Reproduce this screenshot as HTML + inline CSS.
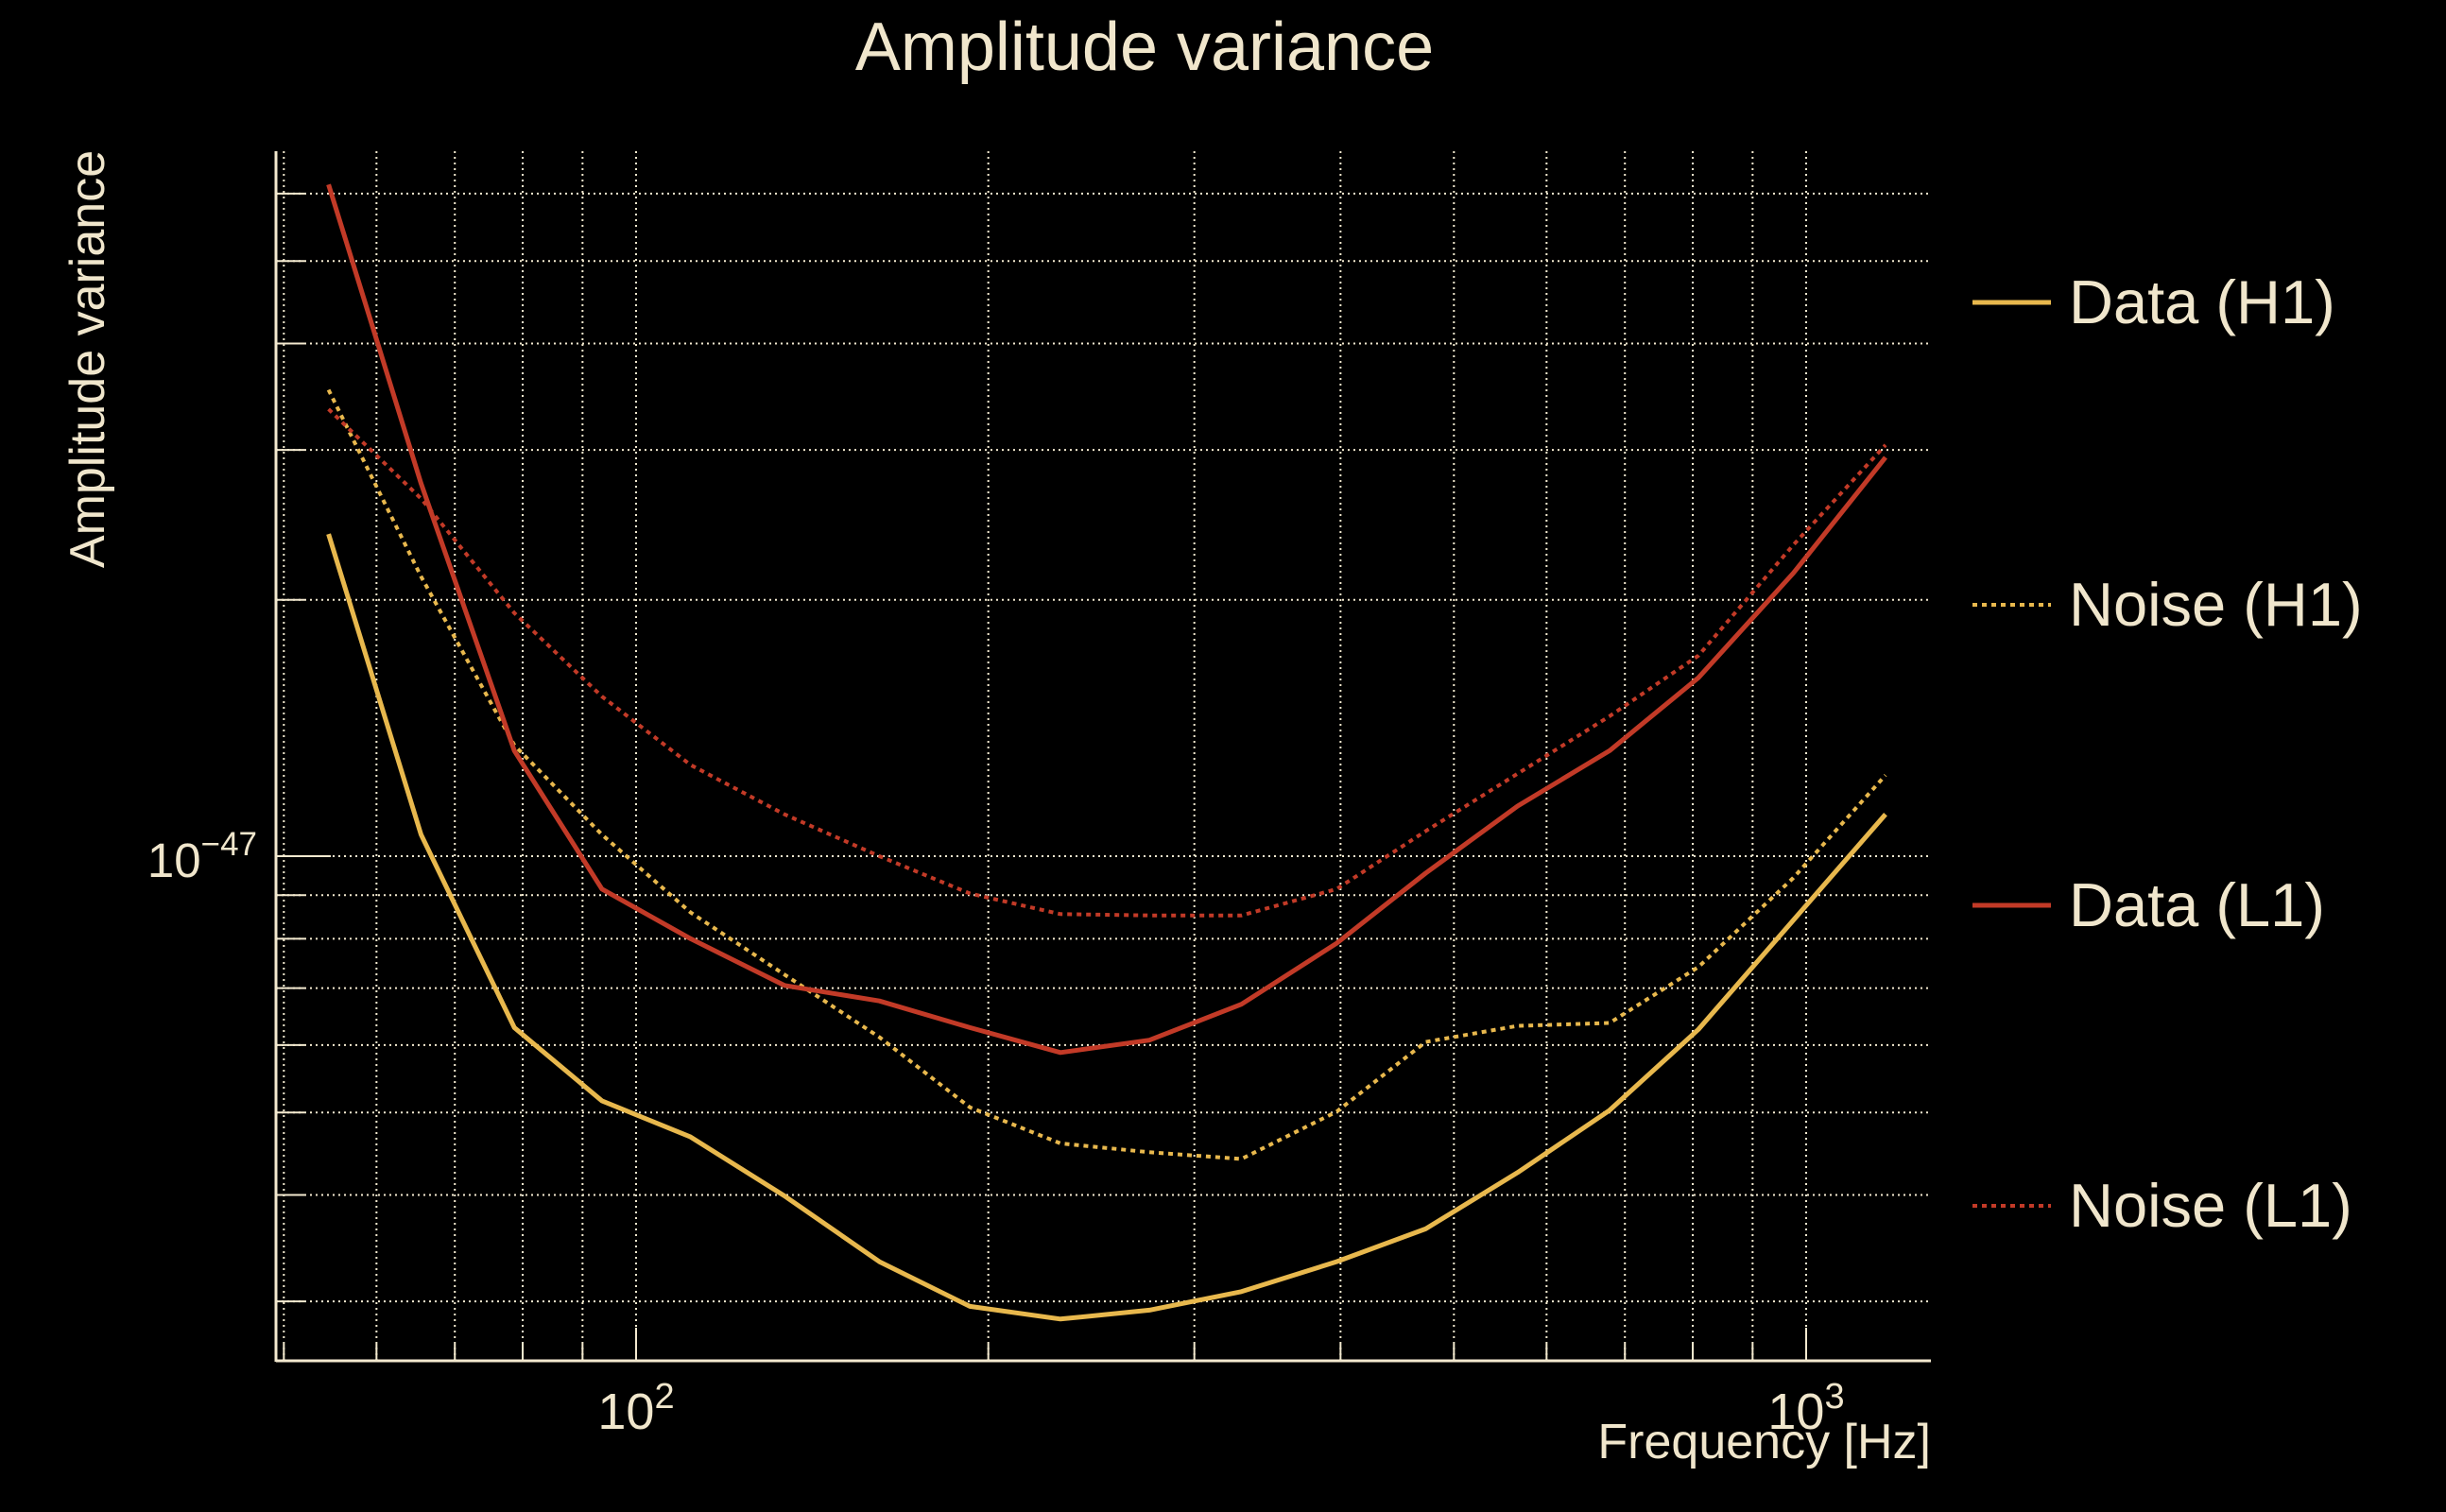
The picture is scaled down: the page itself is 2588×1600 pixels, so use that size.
<!DOCTYPE html>
<html><head><meta charset="utf-8">
<style>
html,body{margin:0;padding:0;background:#000;}
svg{display:block;font-family:"Liberation Sans",sans-serif;}
</style></head>
<body>
<svg id="chart" width="2588" height="1600" viewBox="0 0 2588 1600" xmlns="http://www.w3.org/2000/svg">
<rect width="2588" height="1600" fill="#000"/>
<g id="grid"></g>
<g id="series"></g>
<g id="axes"></g>
<text x="1211" y="74" text-anchor="middle" font-size="72" fill="#f0e6cc">Amplitude variance</text>
<text transform="translate(110,380) rotate(-90)" text-anchor="middle" font-size="52" fill="#f0e6cc">Amplitude variance</text>
<text x="2043" y="1543" text-anchor="end" font-size="52" fill="#f0e6cc">Frequency [Hz]</text>
<g id="legend"></g>
</svg>
<script>
// frequencies (Hz)
const freqs = [54.6,65.5,78.7,93.5,111.3,133.9,161.4,192.9,230.5,274.6,329.1,396.9,472.9,566.7,679.2,809,975,1169];
// values in units of 1e-48
const dataH1 = [23.9,10.6,6.29,5.16,4.68,3.99,3.34,2.96,2.86,2.93,3.08,3.34,3.65,4.25,5.03,6.26,8.41,11.2];
const noiseH1 = [35.3,21.3,13.5,10.6,8.59,7.26,6.13,5.07,4.60,4.49,4.41,5.01,6.05,6.32,6.37,7.41,9.43,12.45];
const dataL1 = [61.5,27.4,13.3,9.15,8.0,7.05,6.76,6.29,5.88,6.08,6.70,7.9,9.55,11.45,13.3,16.2,21.5,29.4];
const noiseL1 = [33.5,26.3,19.3,15.4,12.8,11.2,10.0,9.04,8.55,8.52,8.52,9.15,10.7,12.5,14.6,17.2,23.2,30.4];
const seriesNames = ["Data (H1)","Noise (H1)","Data (L1)","Noise (L1)"];
const xMinorTicks = [50,60,70,80,90,100,200,300,400,500,600,700,800,900,1000];
const xMajorTicks = [100,1000];
const xMajorLabels = ["2","3"];
const yTicks = [3,4,5,6,7,8,9,10,20,30,40,50,60];
const yMajorTicks = [10];
const yMajorLabels = ["\u221247"];

const NS="http://www.w3.org/2000/svg";
const L=292,R=2043,T=160,B=1440;
function xs(f){return 673+1238*Math.log10(f/100);}
function ys(v){return 906-901*Math.log10(v/10);}
const cream="#f3e9cf";
function mk(tag,attrs,parent){const e=document.createElementNS(NS,tag);for(const k in attrs)e.setAttribute(k,attrs[k]);parent.appendChild(e);return e;}
const grid=document.getElementById('grid'),axes=document.getElementById('axes'),ser=document.getElementById('series'),leg=document.getElementById('legend');

xMinorTicks.forEach(f=>{
  const x=xs(f);
  const g=mk('line',{x1:x,x2:x,y1:T,y2:B,stroke:cream,'stroke-width':2,'stroke-dasharray':'2 4'},grid);
  
  
  const len=xMajorTicks.includes(f)?35:18;
  const t=mk('line',{x1:x,x2:x,y1:B,y2:B-len,stroke:cream,'stroke-width':2},axes);
  
  
});
yTicks.forEach(v=>{
  const y=ys(v);
  const g=mk('line',{x1:L,x2:R,y1:y,y2:y,stroke:cream,'stroke-width':2,'stroke-dasharray':'2 4'},grid);
  
  
  const len=yMajorTicks.includes(v)?58:30;
  const t=mk('line',{x1:L,x2:L+len,y1:y,y2:y,stroke:cream,'stroke-width':2},axes);
  
  
});
const sp1=mk('line',{x1:L,x2:L,y1:T,y2:B+1,stroke:cream,'stroke-width':3},axes);


const sp2=mk('line',{x1:L,x2:R,y1:B,y2:B,stroke:cream,'stroke-width':3},axes);



xMajorTicks.forEach((f,i)=>{
  const t=mk('text',{x:xs(f),y:1512,'text-anchor':'middle','font-size':54,fill:'#f0e6cc'},axes);
  
  
  t.innerHTML='10<tspan dy="-22" font-size="38">'+xMajorLabels[i]+'</tspan>';
});
yMajorTicks.forEach((v,i)=>{
  const t=mk('text',{x:272,y:ys(v)+22,'text-anchor':'end','font-size':51,fill:'#f0e6cc'},axes);
  
  
  t.innerHTML='10<tspan dy="-23" font-size="35">'+yMajorLabels[i]+'</tspan>';
});

const styles=[
  {d:dataH1,c:"#e8b84d",dash:null,n:"data-h1-line"},
  {d:noiseH1,c:"#e8b84d",dash:"5 5",n:"noise-h1-line"},
  {d:dataL1,c:"#c23a27",dash:null,n:"data-l1-line"},
  {d:noiseL1,c:"#c23a27",dash:"5 5",n:"noise-l1-line"}
];
[1,3,0,2].forEach(i=>{
  const s=styles[i];
  const pts=freqs.map((f,j)=>xs(f).toFixed(1)+','+ys(s.d[j]).toFixed(1)).join(' ');
  const p=mk('polyline',{points:pts,fill:'none',stroke:s.c,'stroke-width':s.dash?4:5,'stroke-linejoin':'round'},ser);
  if(s.dash)p.setAttribute('stroke-dasharray',s.dash);
  
  
});
const legY=[320,640,958,1276];
styles.forEach((s,i)=>{
  const l=mk('line',{x1:2087,x2:2170,y1:legY[i],y2:legY[i],stroke:s.c,'stroke-width':s.dash?4:5},leg);
  if(s.dash)l.setAttribute('stroke-dasharray',s.dash);
  
  
  const t=mk('text',{x:2189,y:legY[i]+22,'font-size':65,fill:'#f0e6cc'},leg);
  t.textContent=seriesNames[i];
  
  
});
</script>
</body></html>
